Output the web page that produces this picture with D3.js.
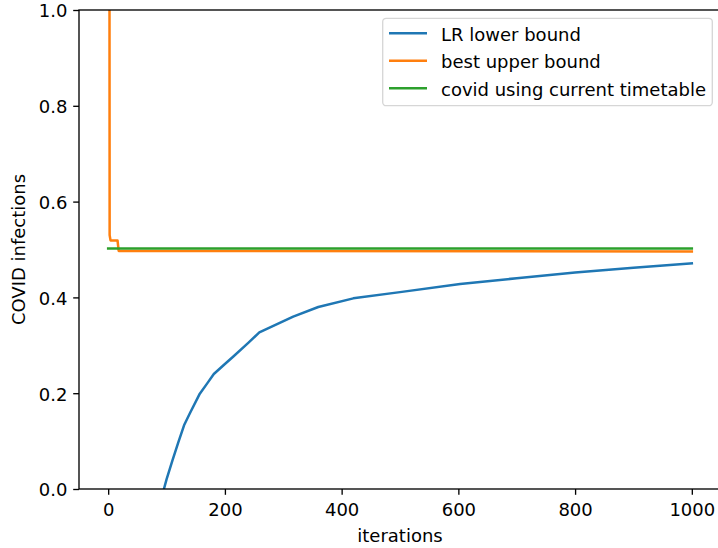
<!DOCTYPE html>
<html>
<head>
<meta charset="utf-8">
<script src="https://cdn.jsdelivr.net/npm/d3@7"></script>
<style>
  body { margin: 0; background: #ffffff; }
  svg { display: block; font-family: "DejaVu Sans", sans-serif; }
</style>
</head>
<body>
<div id="content_svg"></div>
<script>
// datos
const lrLowerX = [95.5, 100, 110, 120, 130, 140, 157, 170, 181, 200, 214, 240, 259, 317, 360, 420, 500, 603, 700, 800, 900, 1000];
const lrLowerY = [0, 0.02, 0.059, 0.097, 0.133, 0.158, 0.199, 0.221, 0.240, 0.261, 0.276, 0.305, 0.327, 0.360, 0.380, 0.398, 0.411, 0.428, 0.440, 0.452, 0.462, 0.471];

const bestUpperX = [2, 2.5, 4, 16, 18, 1000];
const bestUpperY = [1.5, 0.53, 0.519, 0.519, 0.497, 0.496];

const covidX = [0, 1000];
const covidY = [0.502, 0.502];

const xTicks = [0, 200, 400, 600, 800, 1000];
const yTicks = [0.0, 0.2, 0.4, 0.6, 0.8, 1.0];

const seriesNames = ["LR lower bound", "best upper bound", "covid using current timetable"];
const seriesColors = ["#1f77b4", "#ff7f0e", "#2ca02c"];

const W = 718, H = 548;
const ejeIzq = 79, ejeDer = 721, ejeSup = 10, ejeInf = 489;
const fs = 18;

var svg = d3.select("#content_svg")
    .append("svg")
    .attr("width", W)
    .attr("height", H);

var x = d3.scaleLinear().domain([-50, 1050]).range([ejeIzq, ejeDer]);
var y = d3.scaleLinear().domain([0, 1]).range([ejeInf, ejeSup]);

svg.append("defs").append("clipPath")
    .attr("id", "clip")
    .append("rect")
    .attr("x", ejeIzq)
    .attr("y", ejeSup)
    .attr("width", ejeDer - ejeIzq)
    .attr("height", ejeInf - ejeSup);

function zip(xs, ys) {
    return xs.map((v, i) => ({ x: v, y: ys[i] }));
}

const linea = d3.line()
    .x(d => x(d.x))
    .y(d => y(d.y));

var series = [zip(lrLowerX, lrLowerY), zip(bestUpperX, bestUpperY), zip(covidX, covidY)];

var plot = svg.append("g").attr("clip-path", "url(#clip)");
series.forEach(function(s, i) {
    plot.append("path")
        .datum(s)
        .attr("d", linea)
        .attr("fill", "none")
        .attr("stroke", seriesColors[i])
        .attr("stroke-width", 2.5)
        .attr("stroke-linejoin", "round")
        .attr("stroke-linecap", "square");
});

// ejes
var xAxis = d3.axisBottom(x)
    .tickValues(xTicks)
    .tickFormat(d3.format("d"))
    .tickSize(5.8)
    .tickPadding(3.5);
var gx = svg.append("g")
    .attr("transform", "translate(0," + ejeInf + ")")
    .call(xAxis);

var yAxis = d3.axisLeft(y)
    .tickValues(yTicks)
    .tickFormat(d3.format(".1f"))
    .tickSize(5.8)
    .tickPadding(5.8);
var gy = svg.append("g")
    .attr("transform", "translate(" + ejeIzq + ",0)")
    .call(yAxis);

[gx, gy].forEach(function(g) {
    g.select(".domain").remove();
    g.selectAll(".tick line").attr("stroke", "#000").attr("stroke-width", 1.33);
    g.selectAll(".tick text")
        .attr("fill", "#000")
        .style("font-size", fs + "px")
        .style("font-family", "'DejaVu Sans', sans-serif");
});
gx.selectAll(".tick text").attr("dy", null).attr("y", 27);
gy.selectAll(".tick text").attr("dy", "0.38em");

// marco
svg.append("rect")
    .attr("x", ejeIzq)
    .attr("y", ejeSup)
    .attr("width", ejeDer - ejeIzq)
    .attr("height", ejeInf - ejeSup)
    .attr("fill", "none")
    .attr("stroke", "#000")
    .attr("stroke-width", 1.33);

// titulos de ejes
svg.append("text")
    .attr("x", (ejeIzq + ejeDer) / 2)
    .attr("y", 541.5)
    .attr("text-anchor", "middle")
    .style("font-size", fs + "px")
    .text("iterations");

svg.append("text")
    .attr("transform", "translate(25," + ((ejeSup + ejeInf) / 2) + ") rotate(-90)")
    .attr("text-anchor", "middle")
    .style("font-size", fs + "px")
    .text("COVID infections");

// leyenda
var leg = svg.append("g");
leg.append("rect")
    .attr("x", 382.7)
    .attr("y", 18.3)
    .attr("width", 329.6)
    .attr("height", 87.4)
    .attr("rx", 3.5)
    .attr("fill", "#ffffff")
    .attr("fill-opacity", 0.8)
    .attr("stroke", "#d6d6d6")
    .attr("stroke-width", 1.33);

seriesNames.forEach(function(name, i) {
    var ry = 33.3 + i * 27.5;
    leg.append("line")
        .attr("x1", 389)
        .attr("x2", 427)
        .attr("y1", ry)
        .attr("y2", ry)
        .attr("stroke", seriesColors[i])
        .attr("stroke-width", 2.5);
    leg.append("text")
        .attr("x", 441)
        .attr("y", ry + 7.3)
        .style("font-size", fs + "px")
        .text(name);
});
</script>
</body>
</html>
